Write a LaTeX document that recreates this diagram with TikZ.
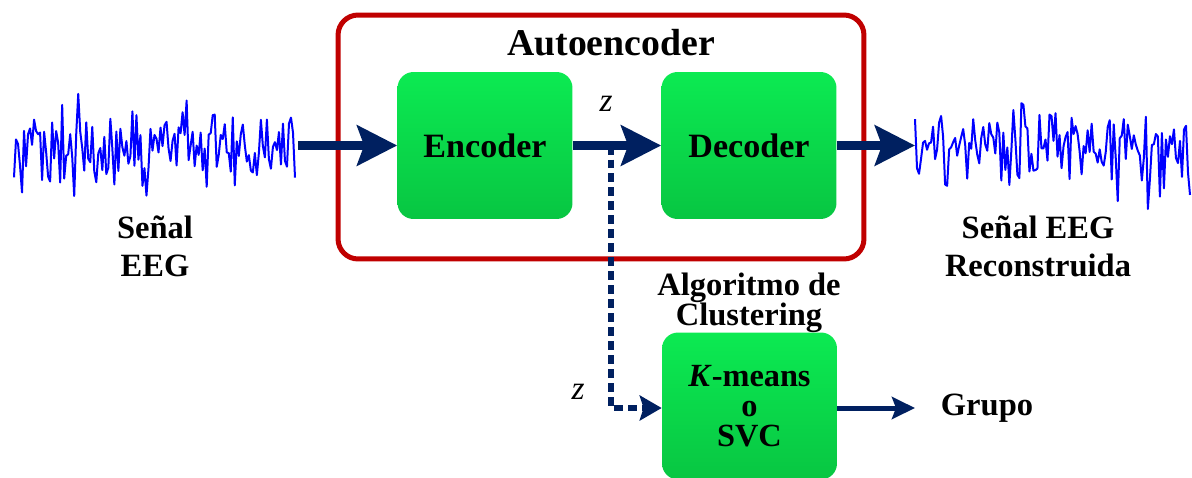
\documentclass[tikz,border=0pt]{standalone}
\usepackage{fontspec}
\setmainfont{Liberation Serif}
\usetikzlibrary{arrows.meta}
\definecolor{navy}{RGB}{0,32,96}
\definecolor{aered}{RGB}{192,0,0}
\definecolor{greentop}{RGB}{12,234,82}
\definecolor{greenbot}{RGB}{8,198,66}
\definecolor{eegblue}{RGB}{0,0,255}

\begin{document}
\begin{tikzpicture}[x=0.02cm, y=-0.02cm]
    \tikzstyle{every node}+=[inner sep=0pt]
    \tikzstyle{block}=[rectangle, rounded corners=0.32cm, minimum width=3.5cm, minimum height=2.94cm, top color=greentop, bottom color=greenbot, font=\fontsize{19.4}{19.4}\selectfont\bfseries]
    \tikzstyle{aebox}=[rectangle, draw=aered, line width=0.1cm, rounded corners=0.4cm, minimum width=10.52cm, minimum height=4.88cm]
    \tikzstyle{txt}=[align=center, font=\fontsize{18.5}{21.6}\selectfont\bfseries]
    \tikzstyle{zlab}=[font=\fontsize{19}{19}\selectfont\itshape]
    \tikzstyle{eeg}=[eegblue, line width=0.04cm, line join=round]
    \tikzstyle{bigarrow}=[navy, line width=0.17cm, -{Stealth[length=0.8cm, width=0.8cm, inset=0.14cm]}]
    \tikzstyle{smallarrow}=[navy, line width=0.1cm, -{Stealth[length=0.46cm, width=0.44cm, inset=0.08cm]}]
    \tikzstyle{dasharrow}=[navy, line width=0.12cm, dash pattern=on 0.18cm off 0.1cm, -{Stealth[length=0.44cm, width=0.5cm, inset=0.08cm]}]
    \useasboundingbox (0,0) rectangle (1192,477);
    \clip (0,0) rectangle (1192,477);
    \pgfmathsetseed{12}
    \draw [eeg] plot[domain=14:295, samples=141] (\x, {148 + 32*rand + 33*rand*rand});
    \pgfmathsetseed{31}
    \draw [eeg] plot[domain=915:1190, samples=138] (\x, {148 + 32*rand + 33*rand*rand});
    \coordinate (sigL) at (298,145.5);
    \coordinate (sigR) at (915,145.5);
    \coordinate (zsplit) at (611,145.5);
    \coordinate (grp) at (915,408);
    \node [aebox] (ae) at (601,137) {};
    \node [anchor=base, font=\fontsize{21.5}{21.5}\selectfont\bfseries] (aetitle) at (611,55) {Autoencoder};
    \node [block] (enc) at (485,145.5) {Encoder};
    \node [block] (dec) at (749,145.5) {Decoder};
    \node [block, align=center, font=\fontsize{18.4}{17}\selectfont\bfseries] (clus) at (749.5,406) {\textit{K}-means\\o\\SVC};
    \node [txt] (inlab) at (155,246) {Señal\\EEG};
    \node [txt] (outlab) at (1038,246) {Señal EEG\\Reconstruida};
    \node [txt, font=\fontsize{18.5}{17}\selectfont\bfseries] (cluslab) at (749,303) {Algoritmo de\\Clustering};
    \node [zlab, anchor=base] (ztop) at (606,111) {z};
    \node [zlab, anchor=base] (zbot) at (578,399) {z};
    \node [txt, anchor=base] (grupo) at (987,415) {Grupo};
    \draw [bigarrow] (sigL) -- (enc);
    \draw [bigarrow] (enc) -- (dec);
    \draw [bigarrow] (dec) -- (sigR);
    \draw [dasharrow] (zsplit) |- (clus.west |- grp);
    \draw [smallarrow] (clus.east |- grp) -- (grp);
\end{tikzpicture}
\end{document}
